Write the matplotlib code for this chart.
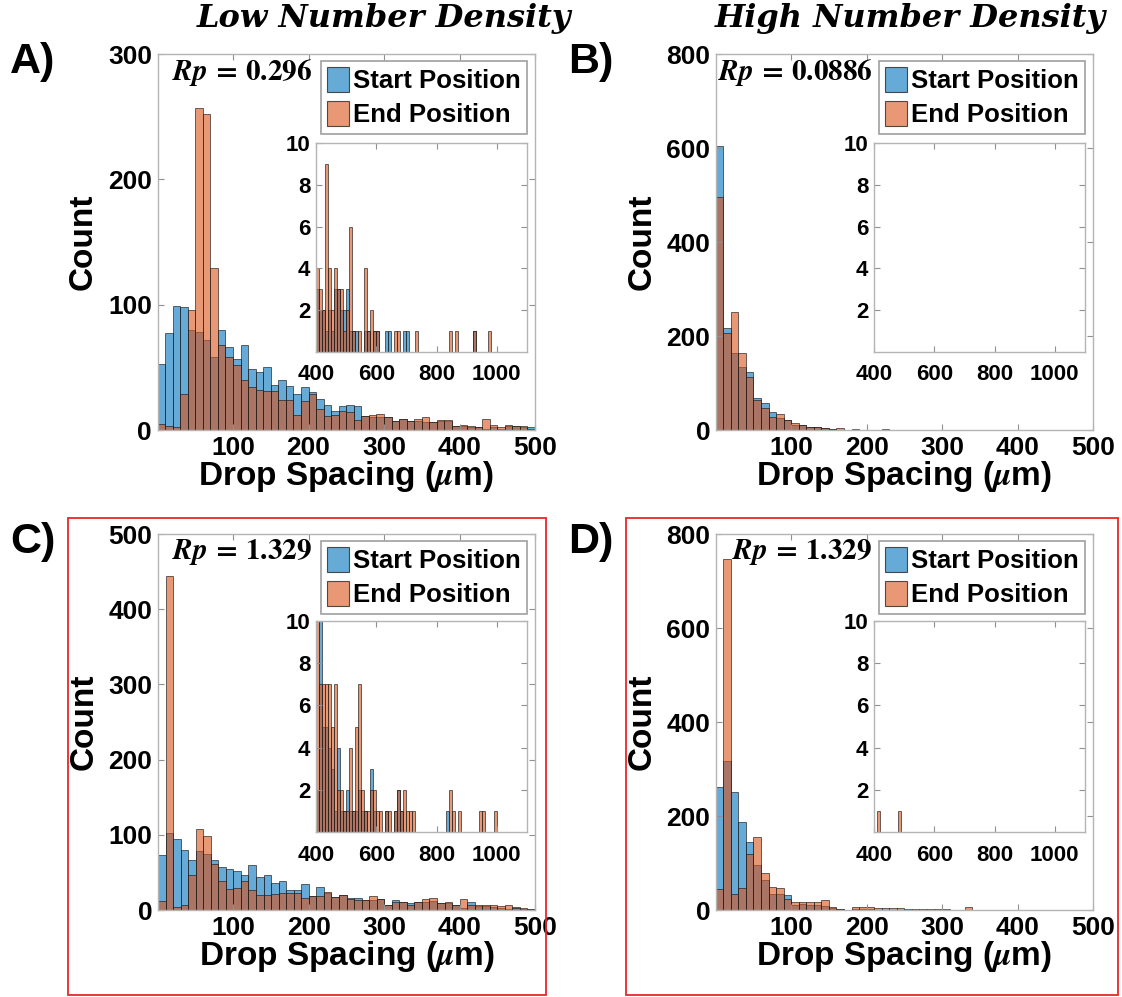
import numpy as np
import matplotlib
matplotlib.use('agg')
from matplotlib import pyplot as plt
from matplotlib.patches import Patch, Rectangle

plt.rcParams['font.family'] = ['Liberation Sans', 'DejaVu Sans']
plt.rcParams['font.weight'] = 'bold'
plt.rcParams['mathtext.fontset'] = 'stix'

BIN_WIDTH = 10
N_BINS = 110          # 0 - 1100 um

# counts per 10 um bin from 0 to 400 um
A_START = [53, 77, 99, 98, 80, 78, 72, 58, 80, 66, 57, 68, 49, 46, 50, 36, 40, 35, 29, 34,
           30, 25, 20, 15, 19, 20, 19, 11, 10, 10, 10, 7, 9, 7, 7, 6, 6, 7, 7, 3]
A_END = [5, 3, 2, 29, 96, 257, 252, 129, 68, 58, 52, 40, 34, 32, 31, 31, 24, 24, 12, 23,
         29, 17, 11, 12, 15, 14, 8, 11, 12, 13, 10, 7, 9, 7, 9, 10, 6, 8, 8, 3]
# sparse counts past 400 um (left bin edges)
A_TAIL_EDGES = [400, 410, 420, 430, 440, 450, 460, 470, 480, 490, 500, 510, 520, 530, 540,
                560, 570, 580, 590, 600, 630, 640, 660, 670, 690, 700, 730, 840, 860, 920, 970]
A_START_TAIL = [3, 2, 2, 1, 2, 1, 3, 3, 2, 2, 3, 1, 1, 1, 0,
                1, 1, 0, 1, 1, 1, 1, 0, 0, 1, 1, 0, 0, 0, 1, 0]
A_END_TAIL = [4, 3, 2, 9, 4, 2, 4, 3, 3, 1, 2, 6, 1, 0, 1,
              4, 1, 2, 1, 1, 0, 0, 1, 1, 0, 0, 1, 1, 1, 1, 1]

B_START = [604, 216, 163, 133, 124, 69, 57, 39, 25, 21, 11, 11, 7, 6, 5, 3, 1, 1, 1, 0,
           0, 0, 0, 0, 0, 0, 0, 0, 0, 0, 0, 0, 0, 0, 0, 0, 0, 0, 0, 0]
B_END = [495, 207, 250, 163, 113, 64, 47, 27, 35, 21, 14, 11, 7, 6, 4, 3, 4, 1, 2, 0,
         0, 0, 2, 0, 0, 0, 0, 0, 1, 0, 0, 0, 0, 0, 0, 0, 0, 0, 0, 0]
B_TAIL_EDGES = []
B_START_TAIL = []
B_END_TAIL = []

C_START = [73, 102, 94, 80, 67, 79, 74, 67, 57, 54, 52, 46, 60, 44, 47, 36, 38, 27, 27, 34,
           19, 30, 23, 17, 20, 16, 16, 13, 13, 15, 7, 13, 11, 9, 11, 11, 12, 9, 9, 7]
C_END = [12, 444, 4, 7, 46, 108, 98, 61, 39, 28, 29, 38, 27, 20, 20, 21, 23, 22, 23, 16,
         18, 19, 24, 17, 20, 14, 13, 13, 18, 15, 7, 11, 11, 7, 11, 14, 16, 9, 11, 7]
C_TAIL_EDGES = [400, 410, 420, 430, 440, 450, 460, 470, 480, 490, 500, 510, 520, 530, 540,
                550, 560, 570, 580, 590, 600, 610, 630, 640, 660, 670, 680, 690, 700, 710,
                720, 830, 840, 850, 870, 940, 950, 990]
C_START_TAIL = [2, 10, 5, 5, 4, 3, 1, 4, 1, 1, 2, 1, 1, 1, 2,
                1, 1, 0, 3, 1, 0, 0, 1, 0, 1, 2, 1, 0, 0, 0,
                0, 1, 0, 0, 0, 0, 0, 0]
C_END_TAIL = [15, 7, 7, 7, 7, 5, 7, 2, 2, 1, 1, 4, 1, 5, 7,
              2, 1, 1, 2, 2, 1, 1, 1, 1, 1, 2, 1, 2, 1, 1,
              1, 0, 2, 1, 1, 1, 1, 1]

D_START = [262, 316, 252, 188, 145, 96, 64, 35, 34, 32, 11, 13, 10, 10, 8, 5, 2, 1, 2, 2,
           2, 1, 1, 1, 1, 1, 0, 0, 0, 0, 0, 0, 0, 0, 0, 0, 0, 0, 0, 0]
D_END = [44, 746, 34, 46, 120, 155, 78, 50, 46, 23, 18, 18, 16, 16, 21, 7, 3, 1, 7, 7,
         7, 5, 4, 4, 4, 3, 3, 2, 2, 2, 2, 1, 0, 7, 0, 0, 0, 0, 0, 0]
D_TAIL_EDGES = [410, 480]
D_START_TAIL = [0, 0]
D_END_TAIL = [1, 1]

RP_VALUES = ['0.296', '0.0886', '1.329', '1.329']
PANEL_LABELS = ['A)', 'B)', 'C)', 'D)']
MAIN_YLIMS = [300, 800, 500, 800]
MAIN_YSTEPS = [100, 200, 100, 200]
COLUMN_TITLES = ['Low Number Density', 'High Number Density']

BLUE = (0.0, 0.447, 0.741, 0.6)
ORANGE = (0.85, 0.325, 0.098, 0.6)
EDGE = (0.1, 0.1, 0.1, 0.75)
FRAME = '#b4b4b4'


def full_counts(head, tail_edges, tail_counts):
    counts = np.zeros(N_BINS)
    counts[:len(head)] = head
    for edge, c in zip(tail_edges, tail_counts):
        counts[edge // BIN_WIDTH] = c
    return counts


def style_axes(ax, size, xpad=4):
    for sp in ax.spines.values():
        sp.set_color(FRAME)
        sp.set_linewidth(1.0)
    ax.tick_params(direction='in', top=True, right=True, length=4, width=0.8,
                   color='#909090', labelsize=size, pad=4)
    ax.tick_params(axis='x', pad=xpad)


def draw_hist(ax, start, end):
    left = np.arange(N_BINS) * BIN_WIDTH
    ax.bar(left, start, width=BIN_WIDTH, align='edge', color=BLUE,
           edgecolor=EDGE, linewidth=0.6)
    ax.bar(left, end, width=BIN_WIDTH, align='edge', color=ORANGE,
           edgecolor=EDGE, linewidth=0.6)


panels = [
    (A_START, A_END, A_TAIL_EDGES, A_START_TAIL, A_END_TAIL),
    (B_START, B_END, B_TAIL_EDGES, B_START_TAIL, B_END_TAIL),
    (C_START, C_END, C_TAIL_EDGES, C_START_TAIL, C_END_TAIL),
    (D_START, D_END, D_TAIL_EDGES, D_START_TAIL, D_END_TAIL),
]

W, H = 1122, 997
fig = plt.figure(figsize=(W / 100, H / 100), dpi=100)


def px_box(l, t, r, b):
    return [l / W, 1 - b / H, (r - l) / W, (b - t) / H]


main_boxes = [px_box(157.5, 54, 535, 430), px_box(715.7, 54, 1093, 430),
              px_box(158, 534, 535, 910), px_box(715.7, 534, 1093, 910)]
inset_boxes = [px_box(316, 143, 527, 352), px_box(874, 143, 1085, 352),
               px_box(316, 621, 527, 832), px_box(874, 621, 1085, 832)]
rp_x = [0.038, 0.006, 0.038, 0.043]

for i, (s_head, e_head, t_edges, s_tail, e_tail) in enumerate(panels):
    start = full_counts(s_head, t_edges, s_tail)
    end = full_counts(e_head, t_edges, e_tail)

    ax = fig.add_axes(main_boxes[i])
    draw_hist(ax, start, end)
    ax.set_xlim(0, 500)
    ax.set_ylim(0, MAIN_YLIMS[i])
    ax.set_xticks([100, 200, 300, 400, 500])
    ax.set_yticks(np.arange(0, MAIN_YLIMS[i] + 1, MAIN_YSTEPS[i]))
    style_axes(ax, 19)
    ax.set_xlabel(r'Drop Spacing ($\mu$m)', fontsize=24, fontweight='bold')
    ax.set_ylabel('Count', fontsize=24, fontweight='bold')
    ax.xaxis.set_label_coords(0.5, -0.078)
    ax.yaxis.set_label_coords(-0.155, 0.5)

    ax.text(rp_x[i], 0.952, r'$\mathbfit{Rp}\,=\,\mathbf{' + RP_VALUES[i] + '}$',
            transform=ax.transAxes, fontsize=21, ha='left', va='center')

    handles = [Patch(facecolor=BLUE, edgecolor=EDGE, linewidth=0.8),
               Patch(facecolor=ORANGE, edgecolor=EDGE, linewidth=0.8)]
    leg = ax.legend(handles, ['Start Position', 'End Position'], loc='upper right',
                    bbox_to_anchor=(1 - 8 / 377.5, 1 - 7 / 376), borderaxespad=0,
                    fontsize=18.5, handlelength=0.85, handleheight=1.1,
                    handletextpad=0.15, labelspacing=0.3, borderpad=0.25,
                    fancybox=False, framealpha=1)
    leg.get_frame().set_edgecolor('#a0a0a0')
    leg.get_frame().set_linewidth(1.2)

    ins = fig.add_axes(inset_boxes[i])
    draw_hist(ins, start, end)
    ins.set_xlim(400, 1100)
    ins.set_ylim(0, 10)
    ins.set_xticks([400, 600, 800, 1000])
    ins.set_yticks([2, 4, 6, 8, 10])
    style_axes(ins, 16, xpad=9)

    fig.text(main_boxes[i][0] - 147.5 / W, main_boxes[i][1] + main_boxes[i][3] - 8 / H,
             PANEL_LABELS[i], fontsize=31, fontweight='bold', ha='left', va='center')

for x, title in zip([384 / W, 910 / W], COLUMN_TITLES):
    fig.text(x, 1 - 19 / H, title, family='DejaVu Serif', style='italic',
             fontweight='bold', fontsize=23, ha='center', va='center')

# red frames round the lower row
for l, t, r, b in [(68, 518, 546, 995), (626, 518, 1118, 995)]:
    fig.patches.append(Rectangle((l / W, 1 - b / H), (r - l) / W, (b - t) / H,
                                 transform=fig.transFigure, fill=False,
                                 edgecolor='#e8262b', linewidth=1.3))

fig.savefig('out.png', dpi=100)
